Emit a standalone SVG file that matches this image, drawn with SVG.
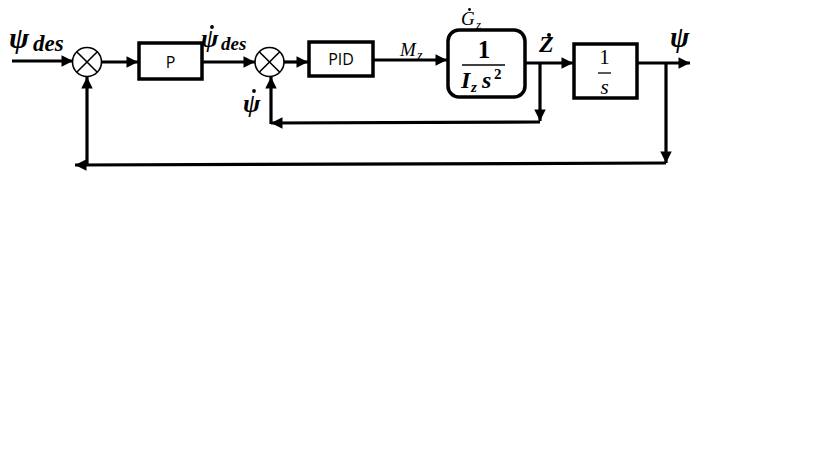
<svg xmlns="http://www.w3.org/2000/svg" width="819" height="460" viewBox="0 0 819 460">
<defs>
<marker id="ah" viewBox="0 0 10 10" refX="10" refY="5" markerWidth="4" markerHeight="3.6" orient="auto" markerUnits="strokeWidth"><path d="M0,0 L10,5 L0,10 z" fill="#000"/></marker>
</defs>
<style>
.box{fill:#fff;stroke:#000;stroke-width:3.5}
.sum{fill:#fff;stroke:#000;stroke-width:1.6}
.x{stroke:#000;stroke-width:1.6}
.arr{fill:none;stroke:#000;stroke-width:3.2;marker-end:url(#ah)}
.sans{font-family:"Open Sans","DejaVu Sans",sans-serif;font-size:16px;fill:#000}
.m{font-family:"Liberation Serif",serif;font-style:italic;fill:#000}
.mb{font-family:"Liberation Serif",serif;font-style:italic;font-weight:bold;fill:#000}
.nb{font-family:"Liberation Serif",serif;font-weight:bold;fill:#000}
.n{font-family:"Liberation Serif",serif;fill:#000}
</style>
<rect width="819" height="460" fill="#fff"/>
<g id="connectors">
<line class="arr" x1="12" y1="61" x2="73" y2="61"/>
<line class="arr" x1="101" y1="62" x2="138" y2="62"/>
<line class="arr" x1="203" y1="62" x2="255" y2="62"/>
<line class="arr" x1="284" y1="62" x2="308" y2="62"/>
<line class="arr" x1="374" y1="60" x2="447" y2="60"/>
<line class="arr" x1="526" y1="63" x2="573" y2="63"/>
<line class="arr" x1="638" y1="63" x2="690" y2="63"/>
<line class="arr" x1="540" y1="63" x2="540" y2="121"/>
<line class="arr" x1="540" y1="122" x2="271" y2="123"/>
<line class="arr" x1="271" y1="124" x2="271" y2="77"/>
<line class="arr" x1="666" y1="63" x2="666" y2="163"/>
<line class="arr" x1="666" y1="163" x2="75" y2="165"/>
<line class="arr" x1="87" y1="166" x2="87" y2="77"/>
</g>
<g id="sum1">
<circle class="sum" cx="87" cy="62" r="14.5"/>
<line class="x" x1="76.7" y1="51.7" x2="97.3" y2="72.3"/>
<line class="x" x1="97.3" y1="51.7" x2="76.7" y2="72.3"/>
</g>
<g id="sum2">
<circle class="sum" cx="269.5" cy="62" r="14.5"/>
<line class="x" x1="259.2" y1="51.7" x2="279.8" y2="72.3"/>
<line class="x" x1="279.8" y1="51.7" x2="259.2" y2="72.3"/>
</g>
<g id="P">
<rect class="box" x="139" y="43" width="63" height="36"/>
<text class="sans" x="170.5" y="68" text-anchor="middle">P</text>
</g>
<g id="PID">
<rect class="box" x="309" y="42" width="64" height="34"/>
<text class="sans" x="341" y="65" text-anchor="middle">PID</text>
</g>
<g id="G">
<rect class="box" x="448" y="30" width="77" height="67" rx="11"/>
<text class="nb" x="484" y="58" text-anchor="middle" font-size="25">1</text>
<line x1="462" y1="65" x2="505" y2="65" stroke="#000" stroke-width="1.5"/>
<text class="mb" x="461" y="88" font-size="24">I</text>
<text class="mb" x="471" y="92" font-size="15">z</text>
<text class="mb" x="482" y="88" font-size="24">s</text>
<text class="nb" x="494" y="79" font-size="15">2</text>
<text class="m" x="461" y="25" font-size="19">G</text>
<text class="m" x="476" y="29" font-size="13">z</text>
<circle cx="469.5" cy="9.5" r="1.4" fill="#000"/>
</g>
<g id="integrator">
<rect class="box" x="574" y="44" width="63" height="54"/>
<text class="n" x="604.5" y="64" text-anchor="middle" font-size="21">1</text>
<line x1="598" y1="73" x2="611" y2="73" stroke="#000" stroke-width="1.3"/>
<text class="m" x="604.5" y="94" text-anchor="middle" font-size="21">s</text>
</g>
<g id="labels">
<text class="mb" x="9" y="48" font-size="30">ψ</text>
<text class="mb" x="33" y="51" font-size="23">des</text>
<text class="mb" x="201" y="47" font-size="26">ψ</text>
<circle cx="212" cy="27" r="1.9" fill="#000"/>
<text class="mb" x="221" y="50" font-size="19">des</text>
<text class="mb" x="243" y="112" font-size="26">ψ</text>
<circle cx="254" cy="91" r="1.9" fill="#000"/>
<text class="m" x="400" y="56" font-size="19">M</text>
<text class="m" x="417" y="60" font-size="14">z</text>
<text class="mb" x="539" y="52" font-size="24">Z</text>
<circle cx="549" cy="35" r="2" fill="#000"/>
<text class="mb" x="670" y="47" font-size="29">ψ</text>
</g>
</svg>
